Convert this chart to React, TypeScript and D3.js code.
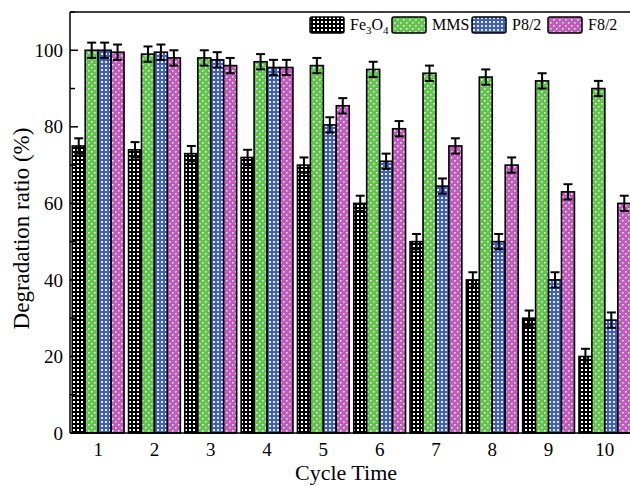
import React from 'react'
import * as d3 from 'd3'

const cycles = ['1', '2', '3', '4', '5', '6', '7', '8', '9', '10']
const seriesNames = ['Fe3O4', 'MMS', 'P8/2', 'F8/2']
const fe3o4 = [75, 74, 73, 72, 70, 60, 50, 40, 30, 20]
const mms = [100, 99, 98, 97, 96, 95, 94, 93, 92, 90]
const p82 = [100, 99.5, 97.5, 95.5, 80.5, 71, 64.5, 50, 40, 29.5]
const f82 = [99.5, 98, 96, 95.5, 85.5, 79.5, 75, 70, 63, 60]
const errs = [2, 2, 2, 2, 2, 2, 2, 2, 2, 2]
const yTicks = [0, 20, 40, 60, 80, 100]
const yMinor = [10, 30, 50, 70, 90, 110]

const allSeries = [fe3o4, mms, p82, f82]
const fills = ['url(#patBlack)', 'url(#patGreen)', 'url(#patBlue)', 'url(#patPink)']

const W = 630
const H = 486
const left = 70
const right = 633
const top = 12
const bottom = 433
const font = '"Liberation Serif", "Times New Roman", serif'

const App = () => {
  const x = d3.scaleBand<string>().domain(cycles).range([left, right]).paddingInner(0.08).paddingOuter(0.04)
  const sub = d3.scaleBand<string>().domain(seriesNames).range([0, x.bandwidth()])
  const y = d3.scaleLinear().domain([0, 110]).range([bottom, top])

  const legendX = [310, 392, 472, 548]

  return (
    <svg width={W} height={H} style={{ position: 'absolute', left: 0, top: 0 }} fontFamily={font}>
      <defs>
        <pattern id="patBlack" width={4} height={4} patternUnits="userSpaceOnUse">
          <rect width={4} height={4} fill="#000" />
          <rect x={1} y={1} width={2} height={2} fill="#fff" />
        </pattern>
        <pattern id="patBlue" width={4} height={4} patternUnits="userSpaceOnUse">
          <rect width={4} height={4} fill="#3d5fc4" />
          <rect x={1} y={1} width={2} height={2} fill="#eef" />
        </pattern>
        <pattern id="patGreen" width={6} height={6} patternUnits="userSpaceOnUse">
          <rect width={6} height={6} fill="#5fc64a" />
          <rect x={1} y={1} width={1.5} height={1.5} fill="#fff" />
          <rect x={4} y={4} width={1.5} height={1.5} fill="#fff" />
        </pattern>
        <pattern id="patPink" width={6} height={6} patternUnits="userSpaceOnUse">
          <rect width={6} height={6} fill="#c45abf" />
          <rect x={1} y={1} width={1.5} height={1.5} fill="#fff" />
          <rect x={4} y={4} width={1.5} height={1.5} fill="#fff" />
        </pattern>
      </defs>

      {/* bars */}
      {allSeries.map((vals, si) =>
        vals.map((v, i) => (
          <rect
            key={`b${si}-${i}`}
            x={(x(cycles[i]) ?? 0) + (sub(seriesNames[si]) ?? 0)}
            y={y(v)}
            width={sub.bandwidth()}
            height={y(0) - y(v)}
            fill={fills[si]}
            stroke="#000"
            strokeWidth={1.6}
          />
        ))
      )}

      {/* error bars */}
      {allSeries.map((vals, si) =>
        vals.map((v, i) => {
          const cx = (x(cycles[i]) ?? 0) + (sub(seriesNames[si]) ?? 0) + sub.bandwidth() / 2
          const e = errs[i]
          return (
            <g key={`e${si}-${i}`} stroke="#000" strokeWidth={2}>
              <line x1={cx} x2={cx} y1={y(v + e)} y2={y(v - e)} />
              <line x1={cx - 4.5} x2={cx + 4.5} y1={y(v + e)} y2={y(v + e)} />
              <line x1={cx - 4.5} x2={cx + 4.5} y1={y(v - e)} y2={y(v - e)} />
            </g>
          )
        })
      )}

      {/* frame */}
      <line x1={left} x2={left} y1={top} y2={bottom} stroke="#000" strokeWidth={1.5} />
      <line x1={left} x2={W} y1={bottom} y2={bottom} stroke="#000" strokeWidth={1.5} />
      <line x1={left} x2={W} y1={top} y2={top} stroke="#000" strokeWidth={1.5} />

      {/* y ticks */}
      {yTicks.map((t) => (
        <g key={`yt${t}`}>
          <line x1={left} x2={left + 8} y1={y(t)} y2={y(t)} stroke="#000" strokeWidth={1.5} />
          <text x={left - 7} y={y(t)} dy="0.35em" textAnchor="end" fontSize={19}>
            {t}
          </text>
        </g>
      ))}
      {yMinor.map((t) => (
        <line key={`ym${t}`} x1={left} x2={left + 5} y1={y(t)} y2={y(t)} stroke="#000" strokeWidth={1.5} />
      ))}

      {/* x labels */}
      {cycles.map((c) => (
        <text key={`xl${c}`} x={(x(c) ?? 0) + x.bandwidth() / 2} y={456} textAnchor="middle" fontSize={19}>
          {c}
        </text>
      ))}

      <text x={346} y={480} textAnchor="middle" fontSize={22}>
        Cycle Time
      </text>
      <text transform={`translate(29,${(top + bottom) / 2 + 6}) rotate(-90)`} textAnchor="middle" fontSize={23}>
        Degradation ratio (%)
      </text>

      {/* legend */}
      {seriesNames.map((s, si) => (
        <g key={`lg${s}`}>
          <rect x={legendX[si]} y={17} width={34} height={16} rx={2} fill={fills[si]} stroke="#000" strokeWidth={1.5} />
          <text x={legendX[si] + 40} y={30} fontSize={16}>
            {si === 0 ? (
              <>
                Fe<tspan fontSize={11} dy={4}>3</tspan>
                <tspan dy={-4}>O</tspan>
                <tspan fontSize={11} dy={4}>4</tspan>
              </>
            ) : (
              s
            )}
          </text>
        </g>
      ))}
    </svg>
  )
}

export default App
